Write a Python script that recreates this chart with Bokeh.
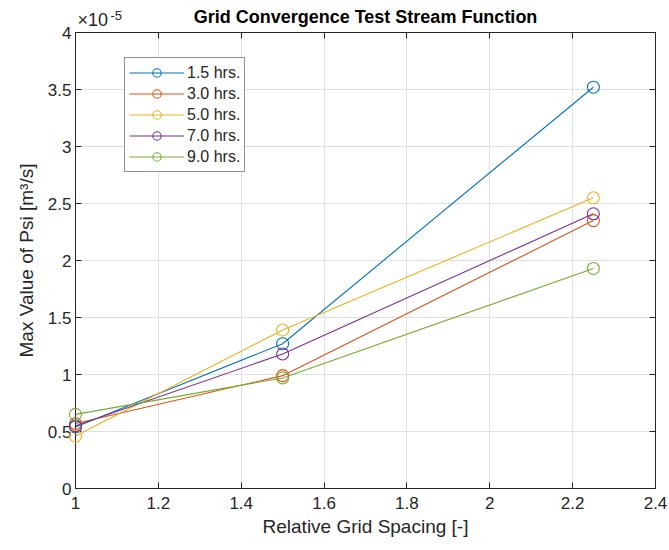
from bokeh.plotting import figure
from bokeh.models import Range1d, LinearAxis, FixedTicker, Legend
from bokeh.core.properties import value
from bokeh.embed import file_html
from bokeh.resources import INLINE

# data (values in units of 1e-5 m^3/s)
spacing = [1.0, 1.5, 2.25]
psi_15 = [0.54, 1.27, 3.52]
psi_30 = [0.57, 0.99, 2.35]
psi_50 = [0.46, 1.39, 2.55]
psi_70 = [0.55, 1.18, 2.41]
psi_90 = [0.65, 0.97, 1.93]
series_labels = ["1.5 hrs.", "3.0 hrs.", "5.0 hrs.", "7.0 hrs.", "9.0 hrs."]
series_values = [psi_15, psi_30, psi_50, psi_70, psi_90]
colors = ["#0072BD", "#D95319", "#EDB120", "#7E2F8E", "#77AC30"]

x_ticks = [1, 1.2, 1.4, 1.6, 1.8, 2, 2.2, 2.4]
x_tick_labels = ["1", "1.2", "1.4", "1.6", "1.8", "2", "2.2", "2.4"]
y_ticks = [0, 0.5, 1, 1.5, 2, 2.5, 3, 3.5, 4]
y_tick_labels = ["0", "0.5", "1", "1.5", "2", "2.5", "3", "3.5", "4"]
title_text = "Grid Convergence Test Stream Function"
x_label = "Relative Grid Spacing [-]"
y_label = "Max Value of Psi [m³/s]"

FONT = "Liberation Sans"
TXT = "#262626"

p = figure(width=669, height=550, output_backend="svg", toolbar_location=None,
           x_range=Range1d(1, 2.4), y_range=Range1d(0, 4),
           min_border_left=75, min_border_right=14, min_border_top=32, min_border_bottom=62)
p.background_fill_color = "white"
p.border_fill_color = "white"
p.outline_line_color = TXT
p.outline_line_width = 1

for ax, ticks, labels in [(p.xaxis[0], x_ticks, x_tick_labels), (p.yaxis[0], y_ticks, y_tick_labels)]:
    ax.ticker = FixedTicker(ticks=ticks)
    ax.major_label_overrides = {t: l for t, l in zip(ticks, labels)}
    ax.major_label_text_font = FONT
    ax.major_label_text_font_size = "17px"
    ax.major_label_text_color = TXT
    ax.axis_line_color = TXT
    ax.major_tick_line_color = TXT
    ax.major_tick_in = 6
    ax.major_tick_out = 0
    ax.minor_tick_line_color = None
    ax.axis_label_text_font = FONT
    ax.axis_label_text_font_size = "19px"
    ax.axis_label_text_font_style = "normal"
    ax.axis_label_text_color = TXT

p.xaxis[0].axis_label = x_label
p.xaxis[0].major_label_standoff = 8
p.xaxis[0].axis_label_standoff = 4
p.yaxis[0].axis_label = y_label
p.yaxis[0].major_label_standoff = 4
p.yaxis[0].axis_label_standoff = 8

# mirrored axes on top and right (ticks only)
top = LinearAxis(ticker=FixedTicker(ticks=x_ticks), major_label_text_color=None,
                 major_tick_in=6, major_tick_out=0, minor_tick_line_color=None,
                 axis_line_color=TXT, major_tick_line_color=TXT,
                 major_label_text_font_size="0px", major_label_standoff=0)
right = LinearAxis(ticker=FixedTicker(ticks=y_ticks), major_label_text_color=None,
                   major_tick_in=6, major_tick_out=0, minor_tick_line_color=None,
                   axis_line_color=TXT, major_tick_line_color=TXT,
                   major_label_text_font_size="0px", major_label_standoff=0)
p.add_layout(top, "above")
p.add_layout(right, "right")

p.xgrid.ticker = FixedTicker(ticks=x_ticks)
p.ygrid.ticker = FixedTicker(ticks=y_ticks)
p.grid.grid_line_color = "#e0e0e0"
p.grid.grid_line_width = 1

items = []
for lab, vals, c in zip(series_labels, series_values, colors):
    r1 = p.line(spacing, vals, line_color=c, line_width=1.1)
    r2 = p.scatter(spacing, vals, marker="circle", size=12, fill_color=None,
                   line_color=c, line_width=1.1, level="overlay")
    items.append((lab, [r1, r2]))

legend = Legend(items=items, location=(49, 316))
legend.border_line_color = TXT
legend.border_line_width = 1
legend.background_fill_color = "white"
legend.background_fill_alpha = 1
legend.label_text_font = FONT
legend.label_text_font_size = "16px"
legend.label_text_color = TXT
legend.glyph_width = 55
legend.glyph_height = 21
legend.label_standoff = 3
legend.spacing = 0
legend.padding = 4
legend.margin = 0
p.add_layout(legend, "center")

# title and exponent as unclipped text glyphs
p.text(x=[1.7], y=[4], text=[title_text], x_offset=0, y_offset=-6,
       text_font=value(FONT), text_font_size="18px", text_font_style="bold",
       text_color="black", text_align="center", text_baseline="bottom", level="overlay")
p.text(x=[1], y=[4], text=["×10"], x_offset=2, y_offset=-3,
       text_font=value(FONT), text_font_size="18px",
       text_color=TXT, text_align="left", text_baseline="bottom", level="overlay")
p.text(x=[1], y=[4], text=["-5"], x_offset=35, y_offset=-13,
       text_font=value(FONT), text_font_size="13px",
       text_color=TXT, text_align="left", text_baseline="bottom", level="overlay")

open("out.html", "w").write(file_html(p, INLINE))
